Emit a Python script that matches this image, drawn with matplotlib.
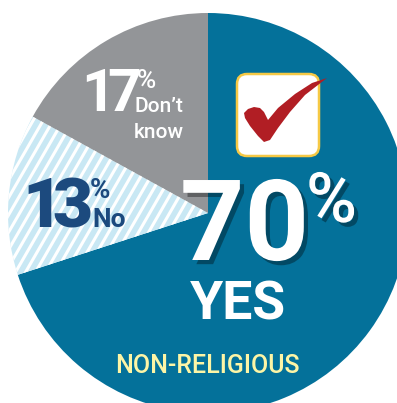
import numpy as np
import matplotlib.pyplot as plt
from matplotlib.patches import FancyBboxPatch, Polygon
import matplotlib.patheffects as pe

# Survey shares (percent), clockwise from 12 o'clock
labels = ['Yes', 'No', "Don't know"]
shares = [70, 13, 17]
colors = ['#04719a', '#c9e8f4', '#939598']

W, H = 397, 403
fig = plt.figure(figsize=(W / 100, H / 100), dpi=100)
ax = fig.add_axes([0, 0, 1, 1])

# image y (top-down) -> data y
def Y(y):
    return H - y

wedges, _ = ax.pie(shares, colors=colors, startangle=90, counterclock=False,
                   center=(208, Y(213)), radius=200,
                   wedgeprops=dict(linewidth=0))
ax.set_xlim(0, W)
ax.set_ylim(0, H)
ax.set_aspect('equal')
ax.axis('off')

# white diagonal stripes on the "No" wedge
slope = np.tan(np.radians(60))
for x0 in np.arange(-300, 450, 10):
    ln, = ax.plot([x0, x0 + H / slope], [0, H], color='white', lw=2.2,
                  solid_capstyle='butt', zorder=2)
    ln.set_clip_path(wedges[1])

font = 'Roboto'
shadow = [pe.withSimplePatchShadow(offset=(3, -3), shadow_rgbFace='black', alpha=0.35)]

# tight-set number: each digit placed on its own
def digits(value, lefts, y, **kw):
    for ch, x in zip(str(value), lefts):
        ax.text(x, Y(y), ch, family=font, ha='left', va='baseline', **kw)

# Don't know
digits(shares[2], [81, 107], 111, color='white', fontsize=42.5, fontweight='bold')
ax.text(137, Y(88), '%', color='white', fontsize=19, fontweight='medium',
        family=font, ha='left', va='baseline')
ax.text(134, Y(112), 'Don\u2019t', color='white', fontsize=15, fontweight='medium',
        family=font, ha='left', va='baseline')
ax.text(134, Y(138), 'know', color='white', fontsize=15, fontweight='medium',
        family=font, ha='left', va='baseline')

# No
navy = '#1c4a7e'
digits(shares[1], [22, 52], 227, color=navy, fontsize=50, fontweight='heavy')
ax.text(90, Y(198), '%', color=navy, fontsize=20, fontweight='bold',
        family=font, ha='left', va='baseline')
ax.text(92, Y(227), 'No', color=navy, fontsize=19, fontweight='bold',
        family=font, ha='left', va='baseline')

# Yes
ax.text(180, Y(260), f'{shares[0]}', color='white', fontsize=81, fontweight='bold',
        family=font, ha='left', va='baseline', path_effects=shadow, zorder=5)
ax.text(306, Y(222), '%', color='white', fontsize=50, fontweight='medium',
        family=font, ha='left', va='baseline', path_effects=shadow, zorder=5)
ax.text(237.5, Y(320), 'YES', color='white', fontsize=38.5, fontweight='bold',
        family=font, ha='center', va='baseline', zorder=5)
ax.text(207, Y(373), 'NON-RELIGIOUS', color='#fdf5a6', fontsize=18, fontweight='medium',
        family=font, ha='center', va='baseline', zorder=5)

# check box icon
box = FancyBboxPatch((237, Y(156)), 82, 82, boxstyle='round,pad=0,rounding_size=10',
                     facecolor='white', edgecolor='#f6c945', linewidth=1.8, zorder=4)
ax.add_patch(box)
tick = [(327, 78), (305, 95), (290, 112), (278, 128), (270, 140), (264, 142),
        (258, 136), (250, 126), (245, 118), (244, 113), (248, 109), (254, 107),
        (260, 108), (264, 112), (268, 120), (278, 108), (295, 94), (312, 83)]
ax.add_patch(Polygon([(x, Y(y)) for x, y in tick], closed=True,
                     facecolor='#b11e24', edgecolor='none', zorder=5))

fig.savefig('out.png', dpi=100)
